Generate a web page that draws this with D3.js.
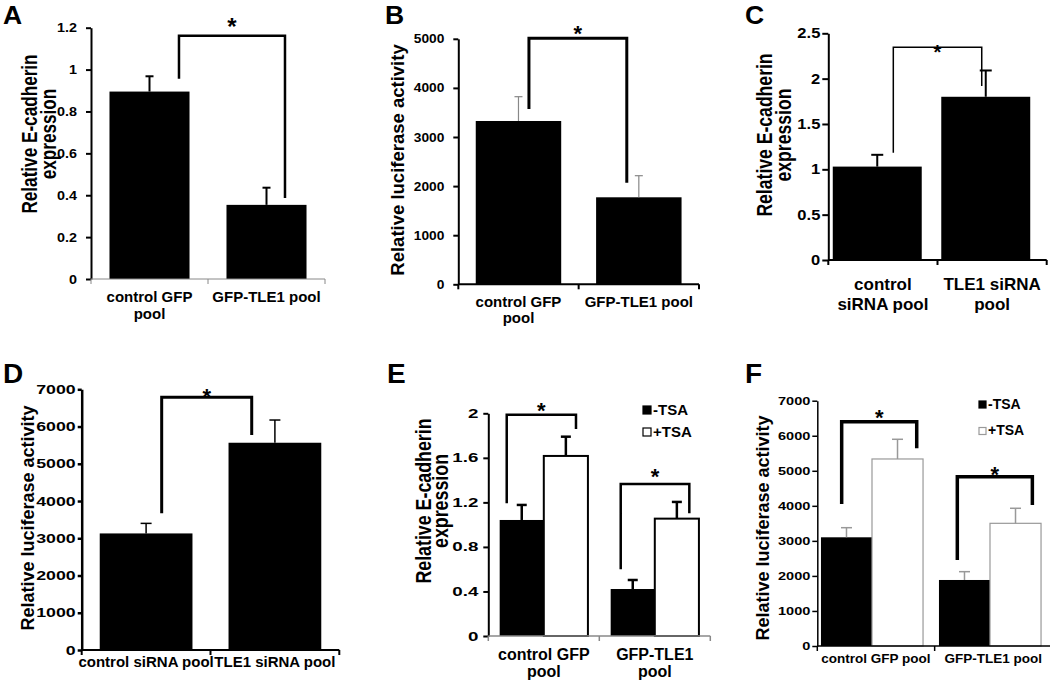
<!DOCTYPE html>
<html><head><meta charset="utf-8">
<script src="https://cdn.jsdelivr.net/npm/d3@7"></script>
<style>
body{margin:0;background:#fff;}
svg text{font-family:"Liberation Sans", Arial, sans-serif; font-weight:bold; fill:#000;}
</style></head><body>
<svg id="chart" width="1050" height="680"></svg>
<script>
// ===== DATA =====
// Panel A
const A_categories = ["control GFP pool", "GFP-TLE1 pool"];
const A_labelLines = [["control GFP", "pool"], ["GFP-TLE1 pool"]];
const A_values = [0.895, 0.354];
const A_errors = [0.073, 0.082];
const A_yTicks = [0, 0.2, 0.4, 0.6, 0.8, 1, 1.2];
const A_yTickLabels = ["0", "0.2", "0.4", "0.6", "0.8", "1", "1.2"];
const A_yTitle = ["Relative E-cadherin", "expression"];
const A_brackets = [[1.162, 0.956, 0.387, 1.228]]; // [top, left end, right end, star] in data units

// Panel B
const B_categories = ["control GFP pool", "GFP-TLE1 pool"];
const B_labelLines = [["control GFP", "pool"], ["GFP-TLE1 pool"]];
const B_values = [3326, 1772];
const B_errors = [495, 440];
const B_yTicks = [0, 1000, 2000, 3000, 4000, 5000];
const B_yTickLabels = ["0", "1000", "2000", "3000", "4000", "5000"];
const B_yTitle = ["Relative luciferase activity"];
const B_brackets = [[5010, 3570, 2069, 5200]];

// Panel C
const C_categories = ["control siRNA pool", "TLE1 siRNA pool"];
const C_labelLines = [["control", "siRNA pool"], ["TLE1 siRNA", "pool"]];
const C_values = [1.03, 1.80];
const C_errors = [0.13, 0.29];
const C_yTicks = [0, 0.5, 1, 1.5, 2, 2.5];
const C_yTickLabels = ["0", "0.5", "1", "1.5", "2", "2.5"];
const C_yTitle = ["Relative E-cadherin", "expression"];
const C_brackets = [[2.345, 1.183, 1.918, 2.343]];

// Panel D
const D_categories = ["control siRNA pool", "TLE1 siRNA pool"];
const D_labelLines = [["control siRNA pool"], ["TLE1 siRNA pool"]];
const D_values = [3130, 5565];
const D_errors = [270, 610];
const D_yTicks = [0, 1000, 2000, 3000, 4000, 5000, 6000, 7000];
const D_yTickLabels = ["0", "1000", "2000", "3000", "4000", "5000", "6000", "7000"];
const D_yTitle = ["Relative luciferase activity"];
const D_brackets = [[6786, 3671, 5773, 6928]];

// Panel E
const E_categories = ["control GFP pool", "GFP-TLE1 pool"];
const E_labelLines = [["control GFP", "pool"], ["GFP-TLE1", "pool"]];
const E_series = ["-TSA", "+TSA"];
const E_minusTSA = [1.042, 0.422];
const E_plusTSA = [1.617, 1.054];
const E_minusErr = [0.135, 0.081];
const E_plusErr = [0.173, 0.150];
const E_yTicks = [0, 0.4, 0.8, 1.2, 1.6, 2];
const E_yTickLabels = ["0", "0.4", "0.8", "1.2", "1.6", "2"];
const E_yTitle = ["Relative E-cadherin", "expression"];
const E_brackets = [[1.986, 1.192, 1.860, 2.066], [1.366, 0.599, 1.102, 1.473]];

// Panel F
const F_categories = ["control GFP pool", "GFP-TLE1 pool"];
const F_labelLines = [["control GFP pool"], ["GFP-TLE1 pool"]];
const F_series = ["-TSA", "+TSA"];
const F_minusTSA = [3102, 1884];
const F_plusTSA = [5337, 3501];
const F_minusErr = [274, 237];
const F_plusErr = [562, 429];
const F_yTicks = [0, 1000, 2000, 3000, 4000, 5000, 6000, 7000];
const F_yTickLabels = ["0", "1000", "2000", "3000", "4000", "5000", "6000", "7000"];
const F_yTitle = ["Relative luciferase activity"];
const F_brackets = [[6401, 4053, 5642, 6650], [4832, 2454, 4024, 5023]];

const panelLetters = ["A", "B", "C", "D", "E", "F"];

// ===== DRAWING =====
const svg = d3.select("#chart");

function drawPanel(cfg) {
  const g = svg.append("g");
  const y = d3.scaleLinear().domain([0, d3.max(cfg.yTicks)]).range([cfg.y0, cfg.yTop]);
  const axisBand = d3.scaleBand().domain(cfg.categories).range(cfg.axisRange).padding(0);
  const slot = d3.scaleBand().domain(cfg.categories).range(cfg.barRange).padding(0);
  const xb = d3.scaleBand().domain(cfg.categories).range(cfg.barRange)
    .paddingInner(cfg.pad).paddingOuter(cfg.pad / 2);
  const inner = d3.scaleBand().domain(cfg.series).range([0, xb.bandwidth()]);

  // bars + error bars
  cfg.series.forEach((s, si) => {
    const st = cfg.seriesStyle[si];
    const data = cfg.categories.map((c, ci) => ({c, v: cfg.values[si][ci], e: cfg.errors[si][ci]}));
    g.selectAll(null).data(data).enter().append("rect")
      .attr("x", d => xb(d.c) + inner(s))
      .attr("y", d => y(d.v))
      .attr("width", inner.bandwidth())
      .attr("height", d => y(0) - y(d.v))
      .attr("fill", st.fill)
      .attr("stroke", st.stroke || "none")
      .attr("stroke-width", st.strokeWidth || 0);
    const eg = g.append("g").attr("stroke", cfg.errColor).attr("stroke-width", cfg.errWidth);
    data.forEach(d => {
      const cx = xb(d.c) + inner(s) + inner.bandwidth() / 2;
      eg.append("line").attr("x1", cx).attr("x2", cx).attr("y1", y(d.v)).attr("y2", y(d.v + d.e));
      eg.append("line").attr("x1", cx - cfg.cap / 2).attr("x2", cx + cfg.cap / 2)
        .attr("y1", y(d.v + d.e)).attr("y2", y(d.v + d.e));
    });
  });

  // y axis
  const ax = d3.axisLeft(y).tickValues(cfg.yTicks).tickFormat((d, i) => cfg.yTickLabels[i])
    .tickSize(cfg.tickSize).tickPadding(cfg.tickPad).tickSizeOuter(0);
  const ya = g.append("g").attr("transform", `translate(${cfg.axisRange[0]},0)`).call(ax)
    .attr("font-family", null).attr("font-size", null);
  ya.select(".domain").attr("stroke", "#000").attr("stroke-width", cfg.yAxisWidth);
  ya.selectAll(".tick line").attr("stroke", "#000").attr("stroke-width", cfg.yAxisWidth);
  ya.selectAll(".tick text").style("font-size", cfg.tickFont + "px")
    .attr("x", -(cfg.tickSize + cfg.tickPad) / cfg.tickSX)
    .attr("transform", `scale(${cfg.tickSX},1)`);

  // x axis
  const xa = g.append("g").attr("stroke", cfg.xAxisColor).attr("stroke-width", cfg.xAxisWidth);
  xa.append("line").attr("x1", cfg.axisRange[0]).attr("x2", cfg.axisRange[1])
    .attr("y1", y(0)).attr("y2", y(0));
  const bounds = cfg.categories.map(c => axisBand(c)).concat([axisBand(cfg.categories[cfg.categories.length - 1]) + axisBand.step()]);
  xa.selectAll(null).data(bounds).enter().append("line")
    .attr("x1", d => d).attr("x2", d => d).attr("y1", y(0)).attr("y2", y(0) + 5);

  // x labels
  cfg.categories.forEach((c, ci) => {
    const cx = axisBand(c) + axisBand.bandwidth() / 2;
    cfg.labelLines[ci].forEach((ln, li) => {
      g.append("text").attr("x", cx).attr("y", cfg.xLabelY + li * cfg.xLabelGap)
        .attr("text-anchor", "middle").style("font-size", cfg.xLabelFont + "px").text(ln);
    });
  });

  // y title
  cfg.yTitle.forEach((t, i) => {
    g.append("text")
      .attr("transform", `translate(${cfg.yTitleX[i]},${cfg.yTitleCY}) rotate(-90) scale(${cfg.yTitleScale},1)`)
      .attr("text-anchor", "middle").style("font-size", cfg.yTitleFont + "px").text(t);
  });

  // brackets
  cfg.brackets.forEach((b, bi) => {
    const pos = cfg.bracketPos[bi];
    const xl = slot(cfg.categories[pos[0]]) + pos[1] * slot.step();
    const xr = slot(cfg.categories[pos[2]]) + pos[3] * slot.step();
    g.append("path")
      .attr("d", `M${xl},${y(b[1])}V${y(b[0])}H${xr}V${y(b[2])}`)
      .attr("fill", "none").attr("stroke", "#000").attr("stroke-width", cfg.bracketWidth)
      .attr("stroke-linejoin", "miter");
    g.append("text").attr("x", (xl + xr) / 2).attr("y", y(b[3]) + cfg.starFont * 0.56)
      .attr("text-anchor", "middle").style("font-size", cfg.starFont + "px").text("*");
  });

  // legend
  if (cfg.legend) {
    const L = cfg.legend;
    cfg.series.forEach((s, si) => {
      const st = cfg.seriesStyle[si];
      const by = L.y + si * L.gap;
      g.append("rect").attr("x", L.x).attr("y", by - L.size).attr("width", L.size).attr("height", L.size)
        .attr("fill", st.fill).attr("stroke", st.fill === "#000" ? "#000" : L.stroke).attr("stroke-width", 1.2);
      g.append("text").attr("x", L.x + L.size + L.textGap).attr("y", by + 0.5)
        .style("font-size", L.font + "px").text(s);
    });
  }

  // panel letter
  g.append("text").attr("x", cfg.letterPos[0]).attr("y", cfg.letterPos[1])
    .style("font-size", cfg.letterFont + "px").text(cfg.letter);
}

const black = {fill: "#000"};

drawPanel({
  letter: panelLetters[0], letterPos: [3, 24], letterFont: 26.5,
  categories: A_categories, labelLines: A_labelLines, series: ["v"], seriesStyle: [black],
  values: [A_values], errors: [A_errors], yTicks: A_yTicks, yTickLabels: A_yTickLabels,
  y0: 279, yTop: 27.7, axisRange: [91, 325], barRange: [91, 325], pad: 0.316,
  errColor: "#000", errWidth: 2, cap: 8,
  tickSize: 5, tickPad: 9, tickFont: 12.5, tickSX: 1.15, yAxisWidth: 2, xAxisColor: "#888", xAxisWidth: 1,
  xLabelY: 302, xLabelGap: 17, xLabelFont: 15,
  yTitle: A_yTitle, yTitleX: [37, 56], yTitleCY: 134, yTitleFont: 22, yTitleScale: 0.78,
  brackets: A_brackets, bracketPos: [[0, 0.752, 1, 0.658]], bracketWidth: 2.5, starFont: 24
});

drawPanel({
  letter: panelLetters[1], letterPos: [385, 24], letterFont: 26.5,
  categories: B_categories, labelLines: B_labelLines, series: ["v"], seriesStyle: [black],
  values: [B_values], errors: [B_errors], yTicks: B_yTicks, yTickLabels: B_yTickLabels,
  y0: 284.3, yTop: 38.8, axisRange: [458.3, 699], barRange: [458.3, 699], pad: 0.29,
  errColor: "#888", errWidth: 1.2, cap: 8,
  tickSize: 5, tickPad: 9, tickFont: 12.5, tickSX: 1.1, yAxisWidth: 2, xAxisColor: "#000", xAxisWidth: 2,
  xLabelY: 307, xLabelGap: 16, xLabelFont: 15,
  yTitle: B_yTitle, yTitleX: [404], yTitleCY: 160, yTitleFont: 18.5, yTitleScale: 1,
  brackets: B_brackets, bracketPos: [[0, 0.587, 1, 0.40]], bracketWidth: 3, starFont: 22
});

drawPanel({
  letter: panelLetters[2], letterPos: [745, 24], letterFont: 26.5,
  categories: C_categories, labelLines: C_labelLines, series: ["v"], seriesStyle: [black],
  values: [C_values], errors: [C_errors], yTicks: C_yTicks, yTickLabels: C_yTickLabels,
  y0: 260, yTop: 33.3, axisRange: [828.3, 1046.7], barRange: [823, 1040], pad: 0.18,
  errColor: "#000", errWidth: 2, cap: 12,
  tickSize: 6, tickPad: 2, tickFont: 14, tickSX: 1.18, yAxisWidth: 2, xAxisColor: "#000", xAxisWidth: 2,
  xLabelY: 290, xLabelGap: 20, xLabelFont: 17,
  yTitle: C_yTitle, yTitleX: [771.5, 791], yTitleCY: 135, yTitleFont: 22, yTitleScale: 0.8,
  brackets: C_brackets, bracketPos: [[0, 0.648, 1, 0.463]], bracketWidth: 1.5, starFont: 20
});

drawPanel({
  letter: panelLetters[3], letterPos: [3, 383], letterFont: 28,
  categories: D_categories, labelLines: D_labelLines, series: ["v"], seriesStyle: [black],
  values: [D_values], errors: [D_errors], yTicks: D_yTicks, yTickLabels: D_yTickLabels,
  y0: 650, yTop: 389.3, axisRange: [81.7, 339.3], barRange: [81.7, 339.3], pad: 0.28,
  errColor: "#000", errWidth: 1.5, cap: 11,
  tickSize: 4, tickPad: 2, tickFont: 12.5, tickSX: 1.42, yAxisWidth: 2.5, xAxisColor: "#000", xAxisWidth: 2,
  xLabelY: 667, xLabelGap: 17, xLabelFont: 15,
  yTitle: D_yTitle, yTitleX: [34], yTitleCY: 518, yTitleFont: 18, yTitleScale: 1,
  brackets: D_brackets, bracketPos: [[0, 0.621, 1, 0.32]], bracketWidth: 3, starFont: 22
});

drawPanel({
  letter: panelLetters[4], letterPos: [387, 383], letterFont: 28,
  categories: E_categories, labelLines: E_labelLines, series: E_series,
  seriesStyle: [black, {fill: "#fff", stroke: "#000", strokeWidth: 2}],
  values: [E_minusTSA, E_plusTSA], errors: [E_minusErr, E_plusErr], yTicks: E_yTicks, yTickLabels: E_yTickLabels,
  y0: 636, yTop: 413.3, axisRange: [488.3, 710.3], barRange: [488.3, 710.3], pad: 0.205,
  errColor: "#000", errWidth: 2.5, cap: 10,
  tickSize: 5, tickPad: 5, tickFont: 12.5, tickSX: 1.5, yAxisWidth: 2, xAxisColor: "#888", xAxisWidth: 1.5,
  xLabelY: 660, xLabelGap: 17, xLabelFont: 16,
  yTitle: E_yTitle, yTitleX: [430.5, 448], yTitleCY: 501, yTitleFont: 22, yTitleScale: 0.81,
  brackets: E_brackets, bracketPos: [[0, 0.166, 0, 0.79], [1, 0.193, 1, 0.811]], bracketWidth: 2.5, starFont: 22,
  legend: {x: 643, y: 414, gap: 22, size: 8, textGap: 2, font: 15, stroke: "#000"}
});

drawPanel({
  letter: panelLetters[5], letterPos: [745, 383], letterFont: 28,
  categories: F_categories, labelLines: F_labelLines, series: F_series,
  seriesStyle: [black, {fill: "#fff", stroke: "#999", strokeWidth: 1.2}],
  values: [F_minusTSA, F_plusTSA], errors: [F_minusErr, F_plusErr], yTicks: F_yTicks, yTickLabels: F_yTickLabels,
  y0: 646, yTop: 400.7, axisRange: [817.3, 1052], barRange: [813, 1049], pad: 0.135,
  errColor: "#999", errWidth: 1.5, cap: 11,
  tickSize: 5, tickPad: 2, tickFont: 11, tickSX: 1.32, yAxisWidth: 1.5, xAxisColor: "#000", xAxisWidth: 1.5,
  xLabelY: 663, xLabelGap: 16, xLabelFont: 13.5,
  yTitle: F_yTitle, yTitleX: [769], yTitleCY: 528, yTitleFont: 18, yTitleScale: 1,
  brackets: F_brackets, bracketPos: [[0, 0.243, 0, 0.879], [1, 0.223, 1, 0.859]], bracketWidth: 3.5, starFont: 22,
  legend: {x: 979, y: 408, gap: 26.5, size: 7, textGap: 2, font: 14, stroke: "#999"}
});
</script>
</body></html>
